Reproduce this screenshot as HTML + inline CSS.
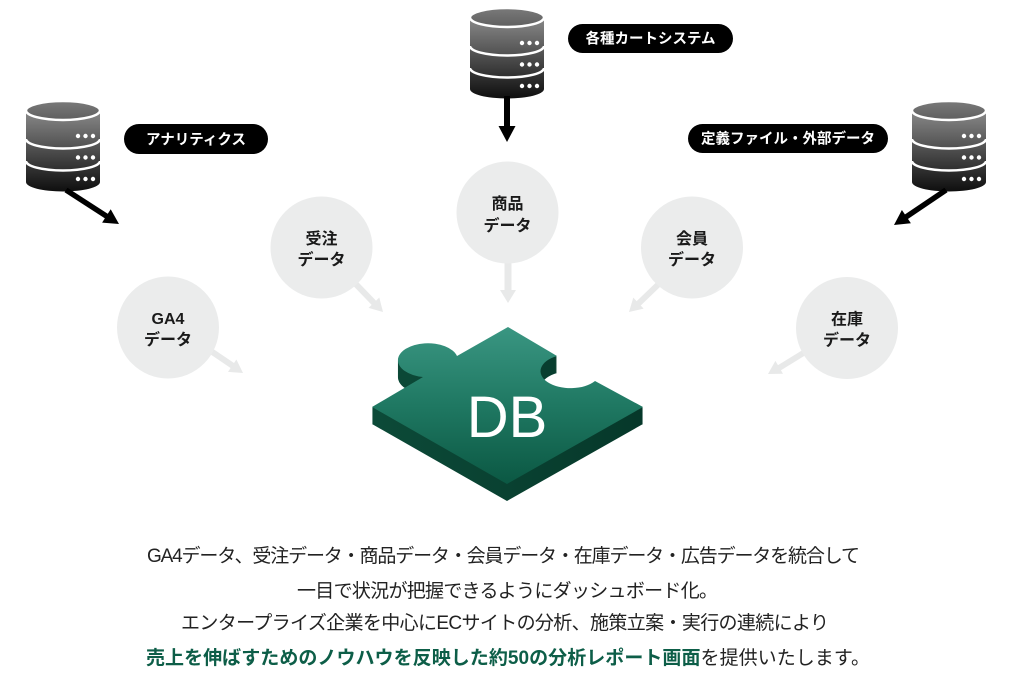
<!DOCTYPE html>
<html lang="ja">
<head>
<meta charset="utf-8">
<style>
  html,body{margin:0;padding:0;background:#fff;}
  body{width:1015px;height:677px;overflow:hidden;}
  svg{display:block;}
  text{font-family:"Liberation Sans","Noto Sans CJK JP",sans-serif;}
</style>
</head>
<body>
<svg width="1015" height="677" viewBox="0 0 1015 677" xmlns="http://www.w3.org/2000/svg">
  <defs>
    <linearGradient id="dbg" x1="0" y1="0" x2="0" y2="91" gradientUnits="userSpaceOnUse">
      <stop offset="0.1" stop-color="#8a8a8a"/>
      <stop offset="1" stop-color="#0e0e0e"/>
    </linearGradient>
    <linearGradient id="capg" x1="0" y1="0" x2="0" y2="19" gradientUnits="userSpaceOnUse">
      <stop offset="0" stop-color="#7a7a7a"/>
      <stop offset="1" stop-color="#5f5f5f"/>
    </linearGradient>
    <g id="db">
      <path d="M0,9.5 L0,81 A37,9.5 0 0 0 74,81 L74,9.5 Z" fill="url(#dbg)"/>
      <ellipse cx="37" cy="9.5" rx="37" ry="9.5" fill="url(#capg)" stroke="#fff" stroke-width="2.5"/>
      <path d="M0,38 A37,9.5 0 0 0 74,38" fill="none" stroke="#fff" stroke-width="2.5"/>
      <path d="M0,60 A37,9.5 0 0 0 74,60" fill="none" stroke="#fff" stroke-width="2.5"/>
      <g fill="#fff">
        <circle cx="52" cy="35" r="2.2"/><circle cx="59.5" cy="35" r="2.2"/><circle cx="67" cy="35" r="2.2"/>
        <circle cx="52" cy="56.5" r="2.2"/><circle cx="59.5" cy="56.5" r="2.2"/><circle cx="67" cy="56.5" r="2.2"/>
        <circle cx="52" cy="78" r="2.2"/><circle cx="59.5" cy="78" r="2.2"/><circle cx="67" cy="78" r="2.2"/>
      </g>
    </g>
    <path id="face" d="M372,407 L423,377 A30,17 0 1 1 457,356 L508,327 L557,356 A30,17 0 1 0 595,381 L643,407 L507,484 Z"/>
    <linearGradient id="sideg" x1="372" y1="0" x2="643" y2="0" gradientUnits="userSpaceOnUse">
      <stop offset="0" stop-color="#0c4a38"/>
      <stop offset="0.5" stop-color="#094131"/>
      <stop offset="1" stop-color="#06382a"/>
    </linearGradient>
    <linearGradient id="topg" x1="0" y1="327" x2="0" y2="484" gradientUnits="userSpaceOnUse">
      <stop offset="0" stop-color="#3a9682"/>
      <stop offset="0.5" stop-color="#1f7862"/>
      <stop offset="1" stop-color="#0b5843"/>
    </linearGradient>
  </defs>

  <!-- Database icons -->
  <use href="#db" transform="translate(26,101)"/>
  <use href="#db" transform="translate(470,8)"/>
  <use href="#db" transform="translate(912,101)"/>

  <!-- Black arrows -->
  <line x1="66" y1="190" x2="107" y2="216.5" stroke="#000" stroke-width="5.5"/>
  <polygon points="119,224 102.1,222.6 110.7,209.2" fill="#000"/>
  <line x1="507" y1="96" x2="507" y2="127" stroke="#000" stroke-width="6"/>
  <polygon points="498.5,126 515.5,126 507,142" fill="#000"/>
  <line x1="946" y1="190" x2="906" y2="217" stroke="#000" stroke-width="5.5"/>
  <polygon points="894,225 901.9,210 910.9,223.2" fill="#000"/>

  <!-- Pills -->
  <rect x="124" y="124" width="144" height="30" rx="15" fill="#000"/>
  <text x="196" y="144.5" font-size="14.5" font-weight="700" fill="#fff" text-anchor="middle">アナリティクス</text>
  <rect x="568" y="24" width="165" height="29" rx="14.5" fill="#000"/>
  <text x="650.5" y="43.5" font-size="14.5" font-weight="700" fill="#fff" text-anchor="middle">各種カートシステム</text>
  <rect x="688" y="124" width="200" height="29" rx="14.5" fill="#000"/>
  <text x="788" y="143.5" font-size="14.5" font-weight="700" fill="#fff" text-anchor="middle">定義ファイル・外部データ</text>

  <!-- Gray arrows -->
  <g fill="#e8e9e9" stroke="#e8e9e9">
    <line x1="508" y1="255" x2="508" y2="292" stroke-width="7"/>
    <polygon points="500,290 516,290 508,303" stroke="none"/>
    <line x1="205" y1="347" x2="233" y2="366" stroke-width="6"/>
    <polygon points="243,373 228,371.9 236.4,359.5" stroke="none"/>
    <line x1="350" y1="278" x2="375" y2="304" stroke-width="6"/>
    <polygon points="383,312 368.6,307.9 379.3,297.5" stroke="none"/>
    <line x1="665" y1="278" x2="638" y2="304" stroke-width="6"/>
    <polygon points="629,312 633.3,297.6 643.6,308.6" stroke="none"/>
    <line x1="805" y1="352" x2="779" y2="368" stroke-width="6"/>
    <polygon points="768,374 775.4,360.9 783,373.8" stroke="none"/>
  </g>

  <!-- Circles -->
  <g fill="#ebecec">
    <circle cx="168" cy="327.5" r="51"/>
    <circle cx="321.5" cy="247.5" r="51"/>
    <circle cx="507.5" cy="212.5" r="51"/>
    <circle cx="692" cy="247.5" r="51"/>
    <circle cx="847" cy="328" r="51"/>
  </g>
  <g font-size="16" font-weight="700" fill="#1a1a1a" text-anchor="middle">
    <text x="168" y="324">GA4</text>
    <text x="168" y="345">データ</text>
    <text x="321.5" y="244">受注</text>
    <text x="321.5" y="265">データ</text>
    <text x="507.5" y="209">商品</text>
    <text x="507.5" y="231">データ</text>
    <text x="692" y="244">会員</text>
    <text x="692" y="265">データ</text>
    <text x="847" y="324.5">在庫</text>
    <text x="847" y="345.5">データ</text>
  </g>

  <!-- Puzzle piece -->
  <g fill="url(#sideg)">
    <use href="#face" transform="translate(0,1)"/>
    <use href="#face" transform="translate(0,2)"/>
    <use href="#face" transform="translate(0,3)"/>
    <use href="#face" transform="translate(0,4)"/>
    <use href="#face" transform="translate(0,5)"/>
    <use href="#face" transform="translate(0,6)"/>
    <use href="#face" transform="translate(0,7)"/>
    <use href="#face" transform="translate(0,8)"/>
    <use href="#face" transform="translate(0,9)"/>
    <use href="#face" transform="translate(0,10)"/>
    <use href="#face" transform="translate(0,11)"/>
    <use href="#face" transform="translate(0,12)"/>
    <use href="#face" transform="translate(0,13)"/>
    <use href="#face" transform="translate(0,14)"/>
    <use href="#face" transform="translate(0,15)"/>
    <use href="#face" transform="translate(0,16)"/>
    <use href="#face" transform="translate(0,17)"/>
  </g>
  <use href="#face" fill="url(#topg)"/>
  <text x="507" y="437" font-size="58" fill="#fff" text-anchor="middle">DB</text>

  <!-- Paragraph -->
  <g font-size="19" fill="#222">
    <text x="147" y="562" textLength="713" lengthAdjust="spacing">GA4データ、受注データ・商品データ・会員データ・在庫データ・広告データを統合して</text>
    <text x="297" y="597" textLength="421" lengthAdjust="spacing">一目で状況が把握できるようにダッシュボード化。</text>
    <text x="181" y="629" textLength="648" lengthAdjust="spacing">エンタープライズ企業を中心にECサイトの分析、施策立案・実行の連続により</text>
    <text x="146" y="664" textLength="724" lengthAdjust="spacing"><tspan fill="#0d5e48" font-weight="700">売上を伸ばすためのノウハウを反映した約50の分析レポート画面</tspan><tspan>を提供いたします。</tspan></text>
  </g>
</svg>
</body>
</html>
